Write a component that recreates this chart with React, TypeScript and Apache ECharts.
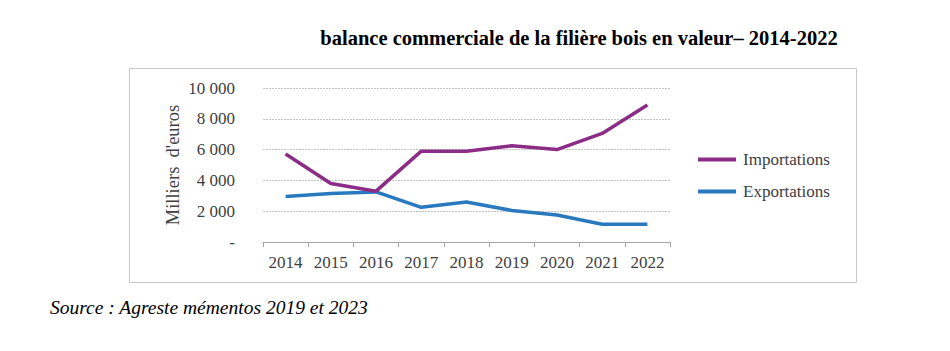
import React, { useEffect, useRef } from "react";
import * as echarts from "echarts";

const years = ["2014", "2015", "2016", "2017", "2018", "2019", "2020", "2021", "2022"];
const importations = [5720, 3800, 3300, 5900, 5900, 6250, 6000, 7050, 8900];
const exportations = [2950, 3150, 3250, 2250, 2600, 2050, 1750, 1150, 1150];
const titleText = "balance commerciale de la filière bois en valeur– 2014-2022";
const sourceText = "Source : Agreste mémentos 2019 et 2023";
const yAxisName = "Milliers  d'euros";

const SERIF = "'Liberation Serif', 'Times New Roman', serif";

export default function App() {
  const ref = useRef<HTMLDivElement>(null);
  useEffect(() => {
    if (!ref.current) return;
    const chart = echarts.init(ref.current, undefined, { renderer: "svg" });
    chart.setOption({
      animation: false,
      backgroundColor: "#ffffff",
      textStyle: { fontFamily: SERIF },
      graphic: [
        {
          type: "rect",
          shape: { x: 129.5, y: 68.5, width: 727, height: 214 },
          style: { fill: "none", stroke: "#c8c8c8", lineWidth: 1 },
          z: 0,
        },
        {
          type: "text",
          x: 579,
          y: 38,
          style: {
            text: titleText,
            fontFamily: SERIF,
            fontWeight: "bold",
            fontSize: 20.5,
            fill: "#000000",
            align: "center",
            verticalAlign: "middle",
          },
        },
        {
          type: "text",
          x: 50,
          y: 307,
          style: {
            text: sourceText,
            fontFamily: SERIF,
            fontStyle: "italic",
            fontSize: 19.5,
            fill: "#000000",
            align: "left",
            verticalAlign: "middle",
          },
        },
      ],
      legend: {
        orient: "vertical",
        left: 698,
        top: 151,
        padding: 0,
        icon: "rect",
        itemWidth: 38,
        itemHeight: 4,
        itemGap: 15,
        textStyle: { fontFamily: SERIF, fontSize: 17, color: "#404040", padding: [0, 0, 0, 2] },
        data: ["Importations", "Exportations"],
      },
      grid: { left: 263, right: 280, top: 88, bottom: 109, containLabel: false },
      xAxis: {
        type: "category",
        data: years,
        boundaryGap: true,
        axisLine: { lineStyle: { color: "#a6a6a6", width: 1 } },
        axisTick: { show: true, length: 5, lineStyle: { color: "#a6a6a6" } },
        axisLabel: { fontFamily: SERIF, fontSize: 17, color: "#404040", margin: 12 },
      },
      yAxis: {
        type: "value",
        min: 0,
        max: 10000,
        interval: 2000,
        name: yAxisName,
        nameLocation: "middle",
        nameRotate: 90,
        nameGap: 81,
        nameTextStyle: { fontFamily: SERIF, fontSize: 18.5, color: "#404040" },
        axisLine: { show: false },
        axisTick: { show: false },
        splitLine: { lineStyle: { color: "#c4c4c4", type: [2, 1], width: 1 } },
        axisLabel: {
          fontFamily: SERIF,
          fontSize: 17,
          color: "#404040",
          margin: 28,
          formatter: (v: number) => {
            if (v === 0) return "-";
            const s = String(v);
            return s.replace(/\B(?=(\d{3})+(?!\d))/g, " ");
          },
        },
      },
      series: [
        {
          name: "Importations",
          type: "line",
          data: importations,
          symbol: "none",
          lineStyle: { color: "#8B2C86", width: 3.5 },
          itemStyle: { color: "#8B2C86" },
          z: 3,
        },
        {
          name: "Exportations",
          type: "line",
          data: exportations,
          symbol: "none",
          lineStyle: { color: "#2A79BE", width: 3.5 },
          itemStyle: { color: "#2A79BE" },
          z: 2,
        },
      ],
    });
    return () => chart.dispose();
  }, []);
  return (
    <div
      ref={ref}
      style={{ position: "fixed", left: 0, top: 0, width: 950, height: 351, background: "#fff" }}
    />
  );
}
